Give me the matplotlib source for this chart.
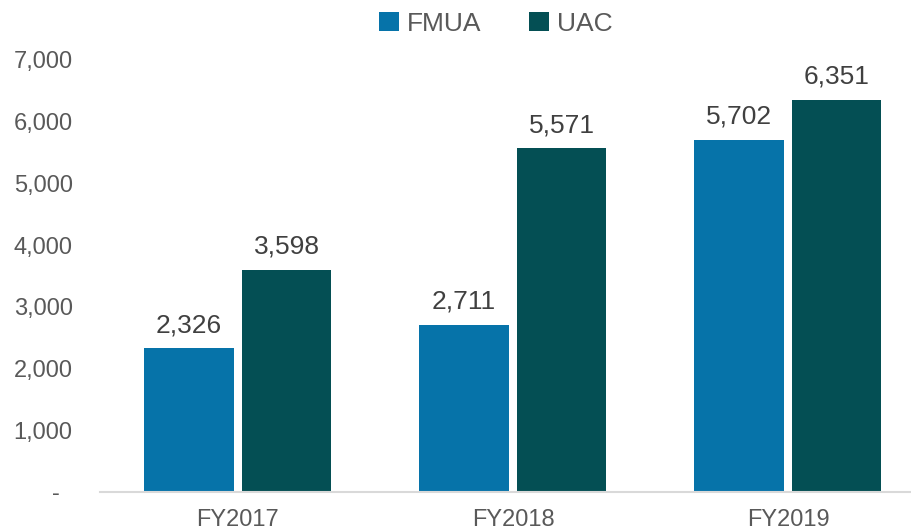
import matplotlib
matplotlib.use("Agg")
import matplotlib.pyplot as plt
import numpy as np
from matplotlib.ticker import FuncFormatter

categories = ["FY2017", "FY2018", "FY2019"]
fmua = [2326, 2711, 5702]
uac = [3598, 5571, 6351]
series_names = ["FMUA", "UAC"]
colors = ["#0673A9", "#044F54"]
yticks = [0, 1000, 2000, 3000, 4000, 5000, 6000, 7000]

TEXT = "#595959"
FONT = ["Liberation Sans", "DejaVu Sans"]

fig = plt.figure(figsize=(9.12, 5.31), dpi=100)
ax = fig.add_axes([100.5 / 912, 1 - 492 / 531, 825 / 912, (492 - 60) / 531])

x = np.arange(len(categories))
width = 0.324
offset = 0.178
for vals, name, color, sign in zip([fmua, uac], series_names, colors, [-1, 1]):
    bars = ax.bar(x + sign * offset, vals, width, color=color, label=name)
    for b, v in zip(bars, vals):
        ax.annotate(f"{v:,}", (b.get_x() + b.get_width() / 2, v),
                    xytext=(0, 8), textcoords="offset points",
                    ha="center", va="bottom", fontsize=19, color="#404040",
                    family=FONT)

ax.set_xlim(-0.5, len(categories) - 0.5)
ax.set_ylim(0, 7000)
ax.set_yticks(yticks)
ax.yaxis.set_major_formatter(FuncFormatter(lambda v, p: f"{int(v):,}" if v else "-  "))
ax.set_xticks(x)
ax.set_xticklabels(categories)

for s in ["top", "right", "left"]:
    ax.spines[s].set_visible(False)
ax.spines["bottom"].set_color("#D9D9D9")
ax.spines["bottom"].set_linewidth(1.5)
ax.tick_params(axis="both", length=0, colors=TEXT)
ax.tick_params(axis="y", pad=20, labelsize=17)
ax.tick_params(axis="x", pad=12, labelsize=17)
for lab in ax.get_xticklabels() + ax.get_yticklabels():
    lab.set_family(FONT)

leg = fig.legend(loc="center", bbox_to_anchor=(496 / 912, 1 - 24 / 531), ncol=2,
                 frameon=False, handlelength=0.75, handleheight=0.75,
                 handletextpad=0.3, columnspacing=1.8,
                 prop={"family": FONT, "size": 19})
for t in leg.get_texts():
    t.set_color(TEXT)

fig.savefig("out.png", dpi=100)
